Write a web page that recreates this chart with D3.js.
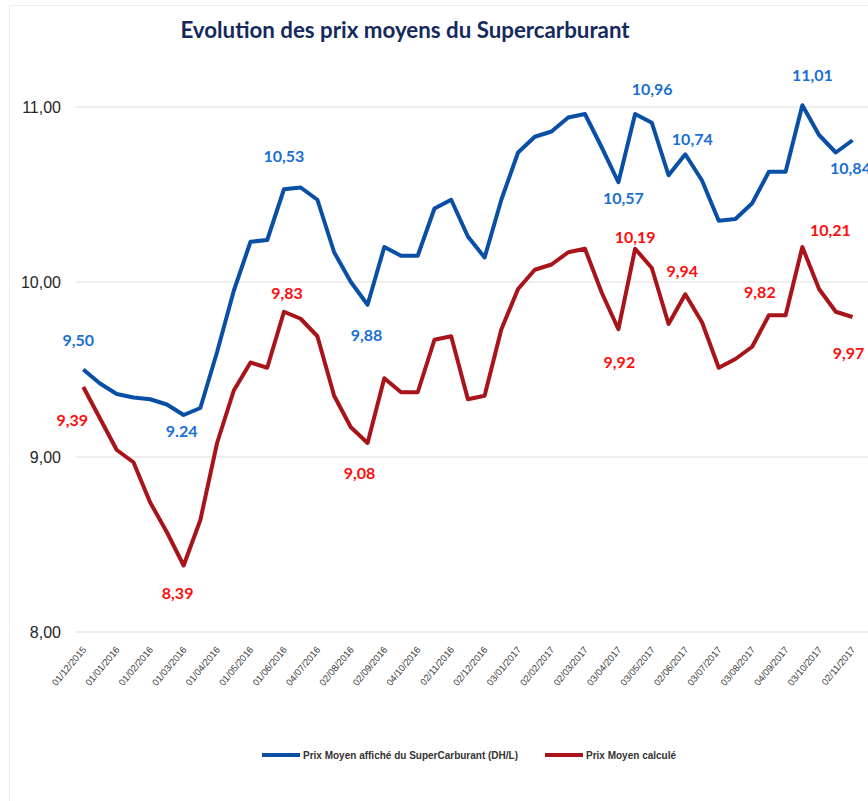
<!DOCTYPE html>
<html>
<head>
<meta charset="utf-8">
<script src="https://cdn.jsdelivr.net/npm/d3@7"></script>
<style>
  body { margin: 0; background: #fff; }
  svg { display: block; }
</style>
</head>
<body>
<svg id="chart" width="868" height="801"></svg>
<script>
// dates of the survey (only every second one is printed on the axis)
var dates = [
  "01/12/2015", "16/12/2015", "01/01/2016", "16/01/2016", "01/02/2016", "16/02/2016",
  "01/03/2016", "16/03/2016", "01/04/2016", "16/04/2016", "01/05/2016", "16/05/2016",
  "01/06/2016", "16/06/2016", "04/07/2016", "18/07/2016", "02/08/2016", "16/08/2016",
  "02/09/2016", "16/09/2016", "04/10/2016", "17/10/2016", "02/11/2016", "16/11/2016",
  "02/12/2016", "16/12/2016", "03/01/2017", "16/01/2017", "02/02/2017", "16/02/2017",
  "02/03/2017", "16/03/2017", "03/04/2017", "17/04/2017", "03/05/2017", "16/05/2017",
  "02/06/2017", "16/06/2017", "03/07/2017", "17/07/2017", "03/08/2017", "16/08/2017",
  "04/09/2017", "18/09/2017", "03/10/2017", "16/10/2017", "02/11/2017"
];

var prixAffiche = [
  9.50, 9.42, 9.36, 9.34, 9.33, 9.30, 9.24, 9.28, 9.60, 9.95,
  10.23, 10.24, 10.53, 10.54, 10.47, 10.17, 10.00, 9.87, 10.20, 10.15,
  10.15, 10.42, 10.47, 10.26, 10.14, 10.47, 10.74, 10.83, 10.86, 10.94,
  10.96, 10.77, 10.57, 10.96, 10.91, 10.61, 10.73, 10.58, 10.35, 10.36,
  10.45, 10.63, 10.63, 11.01, 10.84, 10.74, 10.81
];

var prixCalcule = [
  9.40, 9.22, 9.04, 8.97, 8.74, 8.57, 8.38, 8.64, 9.08, 9.38,
  9.54, 9.51, 9.83, 9.79, 9.69, 9.35, 9.17, 9.08, 9.45, 9.37,
  9.37, 9.67, 9.69, 9.33, 9.35, 9.73, 9.96, 10.07, 10.10, 10.17,
  10.19, 9.94, 9.73, 10.19, 10.08, 9.76, 9.93, 9.77, 9.51, 9.56,
  9.63, 9.81, 9.81, 10.20, 9.96, 9.83, 9.80
];

var yTicks = [8, 9, 10, 11];

// data labels written on the chart: index of the point and text
var labelsAffiche = [
  [0, "9,50"], [6, "9.24"], [12, "10,53"], [17, "9,88"], [32, "10,57"],
  [33, "10,96"], [36, "10,74"], [43, "11,01"], [46, "10,84"]
];
var labelsCalcule = [
  [0, "9,39"], [6, "8,39"], [12, "9,83"], [17, "9,08"], [32, "9,92"],
  [33, "10,19"], [36, "9,94"], [41, "9,82"], [43, "10,21"], [46, "9,97"]
];

// where each label sits relative to its point [dx, dy] (layout only)
var nudgeAffiche = [[-5, -24], [-2, 22], [0, -27], [-1, 36], [5, 22], [17, -19], [7, -9], [10, -24], [-2, 34]];
var nudgeCalcule = [[-11, 39], [-6, 33], [3, -13], [-8, 36], [1, 39], [0, -6], [-3, -17], [-9, -17], [28, -11], [-4, 42]];

var series = [
  {name: "Prix Moyen  affiché du SuperCarburant (DH/L)", values: prixAffiche, line: "#0a4fa6", text: "#1a6fd4", labels: labelsAffiche, nudge: nudgeAffiche},
  {name: "Prix Moyen  calculé", values: prixCalcule, line: "#a8141a", text: "#ff0d0d", labels: labelsCalcule, nudge: nudgeCalcule}
];

var svg = d3.select("#chart");

// faint frame of the original picture
svg.append("rect")
  .attr("x", 9.5).attr("y", 5.5)
  .attr("width", 870).attr("height", 800)
  .attr("fill", "none")
  .attr("stroke", "#eeeeee");

var x = d3.scalePoint()
  .domain(dates)
  .range([83.3, 852.5]);

var y = d3.scaleLinear()
  .domain([8, 11])
  .range([632, 107]);

// title
svg.append("text")
  .attr("x", 405)
  .attr("y", 38)
  .attr("text-anchor", "middle")
  .attr("style", "font-family:Lato;font-weight:bold;font-size:22.3px;fill:#15295c;")
  .text("Evolution des prix moyens du Supercarburant");

// gridlines
svg.append("g").selectAll("line")
  .data(yTicks)
  .enter()
  .append("line")
  .attr("x1", 76)
  .attr("x2", 868)
  .attr("y1", function(d) {return y(d)})
  .attr("y2", function(d) {return y(d)})
  .attr("style", "stroke:#dedede;stroke-width:1.2;");

// y axis labels
var yAxis = d3.axisLeft(y)
  .tickValues(yTicks)
  .tickSize(0)
  .tickPadding(0)
  .tickFormat(function(d) {return d3.format(".2f")(d).replace(".", ",")});

svg.append("g")
  .attr("transform", "translate(61,0)")
  .call(yAxis)
  .call(function(g) {g.select(".domain").remove()})
  .selectAll("text")
  .attr("style", "font-family:'Liberation Sans';font-size:16px;fill:#262626;");

// x axis labels, one on two
var xAxis = d3.axisBottom(x)
  .tickValues(dates.filter(function(d, i) {return i % 2 === 0}))
  .tickSize(0)
  .tickPadding(0);

svg.append("g")
  .attr("transform", "translate(0,640)")
  .call(xAxis)
  .call(function(g) {g.select(".domain").remove()})
  .selectAll("text")
  .attr("text-anchor", "end")
  .attr("dy", 0)
  .attr("transform", "translate(3,10) rotate(-50)")
  .attr("style", "font-family:'Liberation Sans';font-size:9.5px;fill:#404040;");

// lines
var line = d3.line()
  .x(function(d, i) {return x(dates[i])})
  .y(function(d) {return y(d)});

svg.append("g").selectAll("path")
  .data(series)
  .enter()
  .append("path")
  .attr("d", function(s) {return line(s.values)})
  .attr("fill", "none")
  .attr("stroke", function(s) {return s.line})
  .attr("stroke-width", 4)
  .attr("stroke-linejoin", "round");

// data labels
series.forEach(function(s) {
  svg.append("g").selectAll("text")
    .data(s.labels)
    .enter()
    .append("text")
    .attr("x", function(d, i) {return x(dates[d[0]]) + s.nudge[i][0]})
    .attr("y", function(d, i) {return y(s.values[d[0]]) + s.nudge[i][1]})
    .attr("text-anchor", "middle")
    .attr("style", "font-family:Lato;font-weight:bold;font-size:16px;fill:" + s.text + ";")
    .text(function(d) {return d[1]});
});

// legend
var legend = svg.append("g")
  .selectAll("g")
  .data(series)
  .enter()
  .append("g")
  .attr("transform", function(d, i) {return "translate(" + (i === 0 ? 262 : 545) + ",755)"});

legend.append("line")
  .attr("x1", 0)
  .attr("x2", 38)
  .attr("stroke", function(d) {return d.line})
  .attr("stroke-width", 4);

legend.append("text")
  .attr("x", 41)
  .attr("y", 3.5)
  .attr("style", "font-family:'Liberation Sans';font-weight:bold;font-size:10px;fill:#333;")
  .text(function(d) {return d.name});
</script>
</body>
</html>
